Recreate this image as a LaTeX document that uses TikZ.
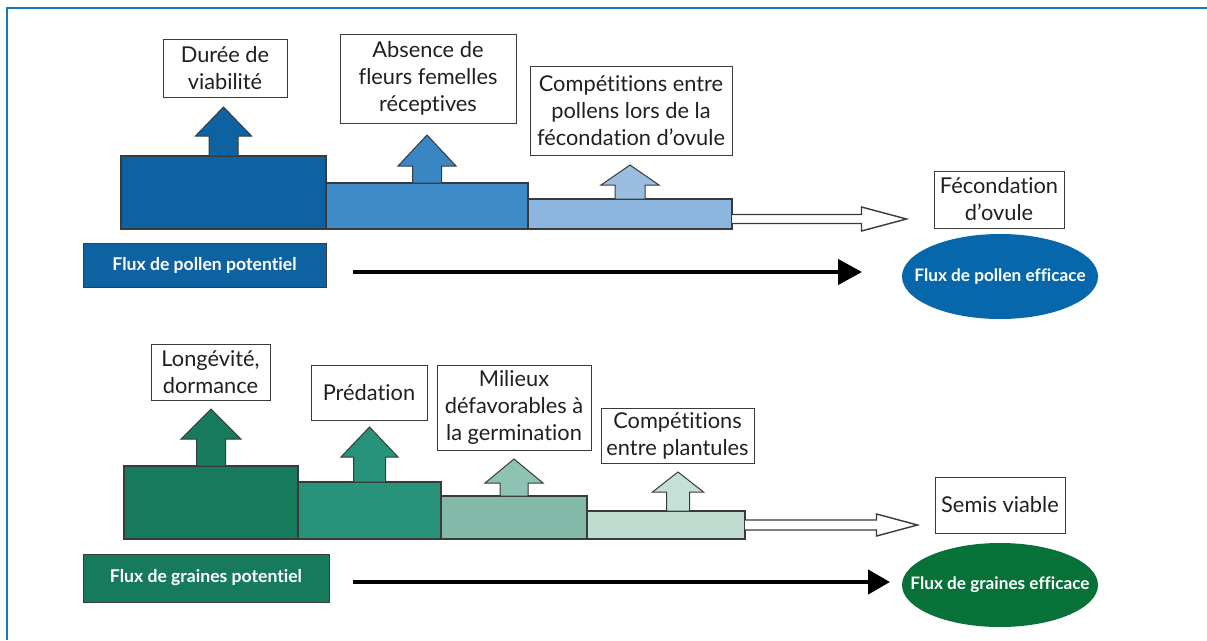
\documentclass[tikz,border=0pt]{standalone}
\usepackage{fontspec}
\setmainfont{Lato}[Ligatures=NoCommon]
\usetikzlibrary{calc,arrows.meta,shapes.geometric}
\definecolor{frameblue}{HTML}{1877BD}
\definecolor{pbA}{HTML}{0F62A2}
\definecolor{pbB}{HTML}{3F8BC9}
\definecolor{pbC}{HTML}{8CB6DF}
\definecolor{paB}{HTML}{3A86C4}
\definecolor{paC}{HTML}{9ABDE0}
\definecolor{pell}{HTML}{0667AA}
\definecolor{gbA}{HTML}{187A5D}
\definecolor{gbB}{HTML}{27937A}
\definecolor{gbC}{HTML}{83B9A8}
\definecolor{gbD}{HTML}{BFDCD1}
\definecolor{gaC}{HTML}{8EC2B2}
\definecolor{gaD}{HTML}{C5E1D7}
\definecolor{gell}{HTML}{077138}
\definecolor{txt}{HTML}{231F20}
\definecolor{edgec}{HTML}{3A3A3A}
\tikzset{
  lbl/.style={draw=edgec, line width=1pt, fill=white, align=center, inner sep=0pt, text=txt,
    font=\fontsize{21.8pt}{27pt}\selectfont},
  bar/.style={draw=edgec, line width=1.5pt, inner sep=0pt, outer sep=0pt, anchor=south west},
  fluxbox/.style={draw=edgec, line width=1pt, inner sep=0pt, outer sep=0pt, anchor=north west,
    text=white, font=\bfseries\fontsize{17.6pt}{20pt}\selectfont},
  eff/.style={ellipse, inner xsep=-30pt, inner ysep=0pt, outer sep=0pt, text=white,
    font=\bfseries\fontsize{17.2pt}{20pt}\selectfont},
  blackarr/.style={line width=4.5pt, black},
  hollowarr/.style={draw=edgec, line width=1.4pt, fill=white, line join=miter},
  uparr/.style={draw=edgec, line width=1pt, line join=miter},
}
% #1 colour, #2 base point, #3 half stem, #4 half head, #5 stem length, #6 head length
\newcommand\UpArr[6]{%
  \filldraw[uparr, fill=#1] ($(#2)+(-#3,0)$) -- ++(0,-#5) -- ++({#3-#4},0) -- ++(#4,-#6)
    -- ++(#4,#6) -- ++({#3-#4},0) -- ++(0,#5) -- cycle;}
% #1 start, #2 end, #3 half shaft, #4 half head, #5 head length
\newcommand\HollowArr[5]{%
  \filldraw[hollowarr] let \p1=(#1), \p2=(#2) in
    (\x1,{\y1+#3}) -- ({\x2-#5},{\y1+#3}) -- ({\x2-#5},{\y1+#4}) -- (\x2,\y1)
    -- ({\x2-#5},{\y1-#4}) -- ({\x2-#5},{\y1-#3}) -- (\x1,{\y1-#3});}
\begin{document}
\begin{tikzpicture}[x=1pt,y=-1pt]
\useasboundingbox (0,0) rectangle (1207,640);
\fill[white] (0,0) rectangle (1207,640);
\draw[frameblue, line width=2.5pt] (7,640) -- (7,8) -- (1207,8);

% ---------- pollen ----------
\node[lbl, minimum width=124pt, minimum height=58pt] (l1) at (225,68) {Durée de\\viabilité};
\node[lbl, minimum width=176pt, minimum height=89pt] (l2) at (428,78.5) {Absence de\\fleurs femelles\\réceptives};
\node[lbl, minimum width=202pt, minimum height=89pt] (l3) at (631,110.5) {Compétitions entre\\pollens lors de la\\fécondation d’ovule};
\node[lbl, minimum width=130pt, minimum height=57pt] (fec) at (999,199.5) {Fécondation\\d’ovule};
\node[eff, fill=pell, minimum width=196pt, minimum height=85pt] (pe) at (1000,276.5) {Flux de pollen efficace};

\node[bar, fill=pbA, minimum width=205pt, minimum height=73pt] (pb1) at (121,229) {};
\node[bar, fill=pbB, minimum width=202pt, minimum height=46pt] (pb2) at (326,229) {};
\node[bar, fill=pbC, minimum width=204pt, minimum height=30pt] (pb3) at (528,229) {};
\node[fluxbox, fill=pbA, minimum width=243pt, minimum height=44pt] (pp) at (83,243) {Flux de pollen potentiel};

\UpArr{pbA}{pb1.north}{14.5}{28}{20}{29}
\UpArr{paB}{pb2.north}{14.5}{29}{17}{31}
\UpArr{paC}{pb3.north}{15}{29}{14}{20}

\coordinate (h1) at ($(pb3.south east)+(0,-10)$);
\coordinate (h1e) at ($(fec.west |- h1)+(-27,0)$);
\HollowArr{h1}{h1e}{4.5}{12}{45}

\coordinate (k1) at ($(pp.east)+(27,7)$);
\draw[blackarr, -{Triangle[length=24pt,width=25pt]}] (k1) -- ($(pe.west |- k1)+(-40,0)$);

% ---------- graines ----------
\node[lbl, minimum width=119pt, minimum height=56pt] (l5) at (210.5,372) {Longévité,\\dormance};
\node[lbl, minimum width=116pt, minimum height=55pt] (l6) at (369,392.5) {Prédation};
\node[lbl, minimum width=154pt, minimum height=85pt] (l7) at (514,407.5) {Milieux\\défavorables à\\la germination};
\node[lbl, minimum width=153pt, minimum height=55pt] (l8) at (677.5,435.5) {Compétitions\\entre plantules};
\node[lbl, minimum width=130pt, minimum height=56pt] (sv) at (1000,505) {Semis viable};
\node[eff, fill=gell, minimum width=196pt, minimum height=84pt] (ge) at (1000,585) {Flux de graines efficace};

\node[bar, fill=gbA, minimum width=174pt, minimum height=73pt] (gb1) at (124,539) {};
\node[bar, fill=gbB, minimum width=143pt, minimum height=57pt] (gb2) at (298,539) {};
\node[bar, fill=gbC, minimum width=146pt, minimum height=43pt] (gb3) at (441,539) {};
\node[bar, fill=gbD, minimum width=158pt, minimum height=28pt] (gb4) at (587,539) {};
\node[fluxbox, fill=gbA, minimum width=246pt, minimum height=48pt] (gp) at (83,554) {Flux de graines potentiel};

\UpArr{gbA}{gb1.north}{14.5}{30}{27}{30}
\UpArr{gbB}{gb2.north}{16}{28.5}{25}{30}
\UpArr{gaC}{gb3.north}{14}{29}{13}{24}
\coordinate (g4top) at ($(gb4.north)+(12,0)$);
\UpArr{gaD}{g4top}{11.5}{25.5}{19}{20}

\coordinate (h2) at ($(gb4.south east)+(0,-14)$);
\coordinate (h2e) at ($(sv.west |- h2)+(-17,0)$);
\HollowArr{h2}{h2e}{5}{11}{41}

\coordinate (k2) at ($(gp.east)+(24,4)$);
\draw[blackarr, -{Triangle[length=22pt,width=24pt]}] (k2) -- ($(ge.west |- k2)+(-12,0)$);
\end{tikzpicture}
\end{document}
